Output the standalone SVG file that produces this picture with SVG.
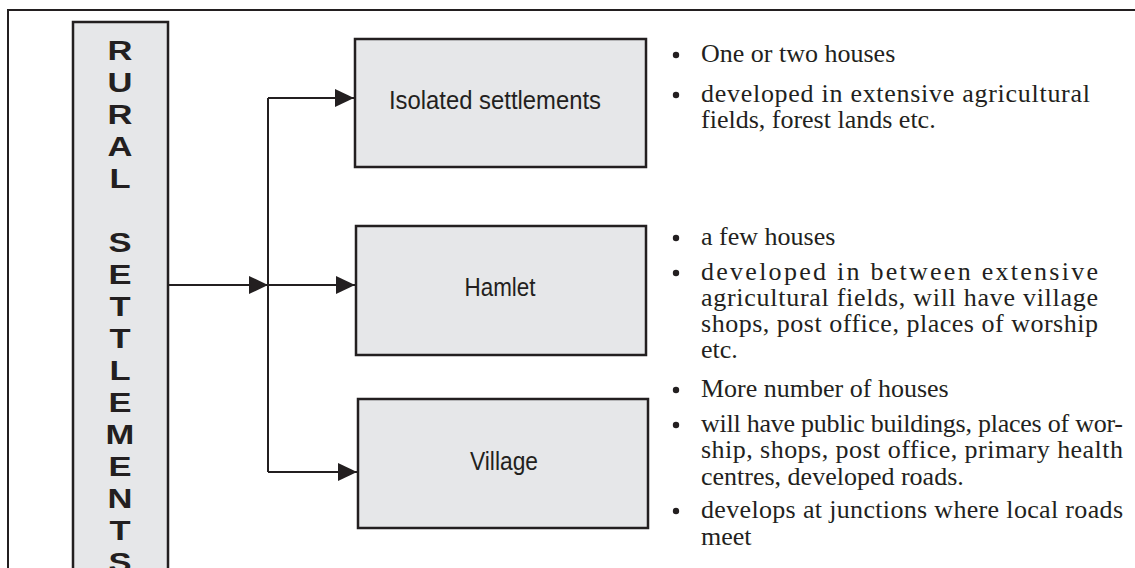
<svg xmlns="http://www.w3.org/2000/svg" width="1135" height="568" viewBox="0 0 1135 568">
<style>
.frame{fill:none;stroke:#231f20;stroke-width:2}
.box{fill:#e6e7e9;stroke:#231f20;stroke-width:2.5}
.lbl{font-family:"Liberation Sans",Arial,sans-serif;font-size:25px;fill:#231f20;text-anchor:middle}
.vert{font-family:"Liberation Sans",Arial,sans-serif;font-size:27px;font-weight:bold;fill:#231f20;text-anchor:middle}
.desc{font-family:"Liberation Serif","Times New Roman",serif;font-size:26px;fill:#231f20}
.bul{fill:#231f20}
.conn{fill:none;stroke:#231f20;stroke-width:2}
</style>
<defs>
<marker id="arr" markerUnits="userSpaceOnUse" markerWidth="20" markerHeight="19" refX="19" refY="9" orient="auto">
<path d="M0,0 L19,9 L0,18 Z" fill="#231f20"/>
</marker>
</defs>
<rect class="frame" x="8" y="10" width="1140" height="600"/>
<g id="rural-settlements">
<rect class="box" x="73" y="22" width="95" height="570"/>
<g transform="translate(120,0) scale(1.28,1)">
<text class="vert" x="0" y="60">R</text>
<text class="vert" x="0" y="92">U</text>
<text class="vert" x="0" y="124">R</text>
<text class="vert" x="0" y="156">A</text>
<text class="vert" x="0" y="188">L</text>
<text class="vert" x="0" y="252">S</text>
<text class="vert" x="0" y="284">E</text>
<text class="vert" x="0" y="316">T</text>
<text class="vert" x="0" y="348">T</text>
<text class="vert" x="0" y="380">L</text>
<text class="vert" x="0" y="412">E</text>
<text class="vert" x="0" y="444">M</text>
<text class="vert" x="0" y="476">E</text>
<text class="vert" x="0" y="508">N</text>
<text class="vert" x="0" y="540">T</text>
<text class="vert" x="0" y="572">S</text>
</g>
</g>
<g id="connectors">
<path class="conn" d="M168,285 H268" marker-end="url(#arr)"/>
<path class="conn" d="M268,98 V472"/>
<path class="conn" d="M268,98 H354" marker-end="url(#arr)"/>
<path class="conn" d="M268,285 H355" marker-end="url(#arr)"/>
<path class="conn" d="M268,472 H357" marker-end="url(#arr)"/>
</g>
<g id="isolated">
<rect class="box" x="355" y="39" width="291" height="128"/>
<text class="lbl" x="495" y="109" textLength="212" lengthAdjust="spacingAndGlyphs">Isolated settlements</text>
</g>
<g id="hamlet">
<rect class="box" x="356" y="226" width="290" height="129"/>
<text class="lbl" x="500" y="296" textLength="71" lengthAdjust="spacingAndGlyphs">Hamlet</text>
</g>
<g id="village">
<rect class="box" x="358" y="399" width="290" height="129"/>
<text class="lbl" x="504" y="470" textLength="68" lengthAdjust="spacingAndGlyphs">Village</text>
</g>
<g id="isolated-notes">
<circle class="bul" cx="676" cy="55" r="3.2"/>
<text class="desc" x="701" y="62">One or two houses</text>
<circle class="bul" cx="676" cy="95" r="3.2"/>
<text class="desc" x="701" y="102" textLength="389" lengthAdjust="spacing">developed in extensive agricultural</text>
<text class="desc" x="701" y="128">fields, forest lands etc.</text>
</g>
<g id="hamlet-notes">
<circle class="bul" cx="676" cy="238" r="3.2"/>
<text class="desc" x="701" y="245">a few houses</text>
<circle class="bul" cx="676" cy="273" r="3.2"/>
<text class="desc" x="701" y="280" textLength="397" lengthAdjust="spacing">developed in between extensive</text>
<text class="desc" x="701" y="306" textLength="397" lengthAdjust="spacing">agricultural fields, will have village</text>
<text class="desc" x="701" y="332" textLength="397" lengthAdjust="spacing">shops, post office,  places of worship</text>
<text class="desc" x="701" y="358">etc.</text>
</g>
<g id="village-notes">
<circle class="bul" cx="676" cy="390" r="3.2"/>
<text class="desc" x="701" y="397">More number of houses</text>
<circle class="bul" cx="676" cy="425" r="3.2"/>
<text class="desc" x="701" y="432" textLength="422" lengthAdjust="spacing">will have public buildings, places of wor-</text>
<text class="desc" x="701" y="458" textLength="422" lengthAdjust="spacing">ship, shops, post office, primary health</text>
<text class="desc" x="701" y="485">centres, developed roads.</text>
<circle class="bul" cx="676" cy="511" r="3.2"/>
<text class="desc" x="701" y="518" textLength="422" lengthAdjust="spacing">develops at junctions where local roads</text>
<text class="desc" x="701" y="545">meet</text>
</g>
</svg>
